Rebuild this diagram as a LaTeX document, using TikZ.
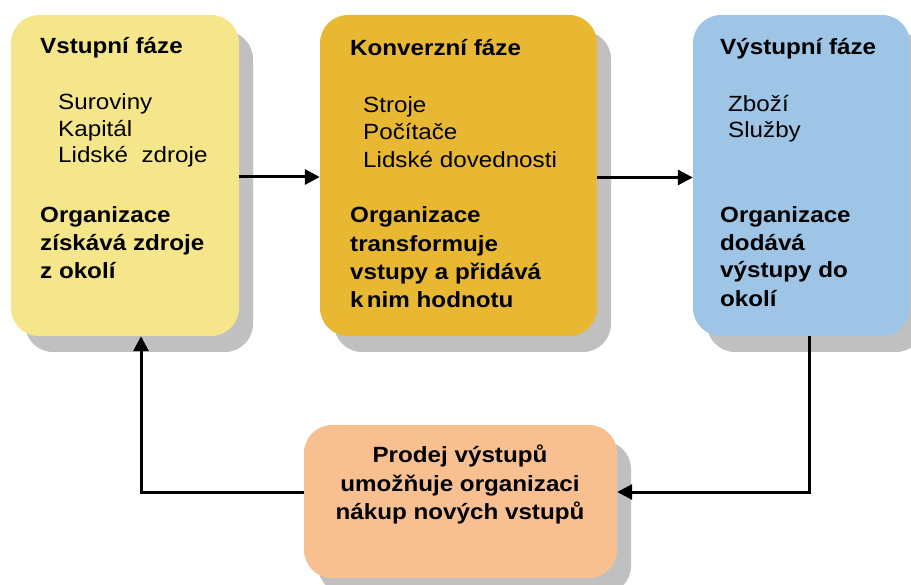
\documentclass[tikz,border=0pt]{standalone}
\usepackage{fontspec}
\setmainfont{Liberation Sans}[FakeStretch=1.1]
\usetikzlibrary{arrows.meta,shadows}
\definecolor{yelc}{RGB}{245,230,140}
\definecolor{goldc}{RGB}{233,184,50}
\definecolor{bluec}{RGB}{158,196,230}
\definecolor{orac}{RGB}{248,192,145}
\definecolor{shc}{RGB}{192,192,192}
\tikzset{
  phase/.style={rounded corners=28pt, inner sep=0pt, draw=none,
    drop shadow={shadow xshift=14pt, shadow yshift=-16pt, fill=shc, opacity=1}},
  txt/.style={inner sep=0pt, anchor=base west, font=\fontsize{22}{26}\selectfont},
  hd/.style={txt, font=\fontsize{22}{26}\selectfont\bfseries},
  ctr/.style={hd, anchor=base},
  arr/.style={line width=3pt, -{Triangle[length=15pt,width=15pt]}}
}
\begin{document}
\begin{tikzpicture}[x=1pt,y=-1pt]
\useasboundingbox (0,0) rectangle (911,585);
% boxes
\node[phase, fill=yelc, minimum width=228pt, minimum height=321pt] (b1) at (125,175.5) {};
\node[phase, fill=goldc, minimum width=277pt, minimum height=321pt] (b2) at (458.5,175.5) {};
\node[phase, fill=bluec, minimum width=217pt, minimum height=321pt] (b3) at (801.5,175.5) {};
\node[phase, fill=orac, minimum width=313pt, minimum height=153pt] (b4) at (460.5,501.5) {};
% box 1 text
\node[hd] (t1h) at (40,54) {Vstupní fáze};
\node[txt] (t1a) at (58,110) {Suroviny};
\node[txt] (t1b) at (58,137) {Kapitál};
\node[txt] (t1c) at (58,163) {Lidské\ \ zdroje};
\node[hd] (t1d) at (40,223) {Organizace};
\node[hd] (t1e) at (40,251) {získává zdroje};
\node[hd] (t1f) at (40,279) {z okolí};
% box 2 text
\node[hd] (t2h) at (350,56) {Konverzní fáze};
\node[txt] (t2a) at (363,113) {Stroje};
\node[txt] (t2b) at (363,140) {Počítače};
\node[txt] (t2c) at (363,168) {Lidské dovednosti};
\node[hd] (t2d) at (350,223) {Organizace};
\node[hd] (t2e) at (350,252) {transformuje};
\node[hd] (t2f) at (350,280) {vstupy a přidává};
\node[hd] (t2g) at (350,308) {k\hspace{0.15em}nim hodnotu};
% box 3 text
\node[hd] (t3h) at (720,55) {Výstupní fáze};
\node[txt] (t3a) at (728,112) {Zboží};
\node[txt] (t3b) at (728,138) {Služby};
\node[hd] (t3d) at (720,223) {Organizace};
\node[hd] (t3e) at (720,251) {dodává};
\node[hd] (t3f) at (720,278) {výstupy do};
\node[hd] (t3g) at (720,307) {okolí};
% box 4 text
\node[ctr] (t4a) at (460,463) {Prodej výstupů};
\node[ctr] (t4b) at (460,491) {umožňuje organizaci};
\node[ctr] (t4c) at (460,519) {nákup nových vstupů};
% connectors
\draw[arr] ([yshift=-1.5pt]b1.east) -- ([yshift=-1.5pt]b2.west);
\draw[arr] ([yshift=-2pt]b2.east) -- ([yshift=-2pt]b3.west);
\draw[arr] ([xshift=7.5pt]b3.south) |- ([yshift=9.5pt]b4.east);
\draw[arr] ([yshift=9.5pt]b4.west) -| ([xshift=16pt]b1.south);
\end{tikzpicture}
\end{document}
